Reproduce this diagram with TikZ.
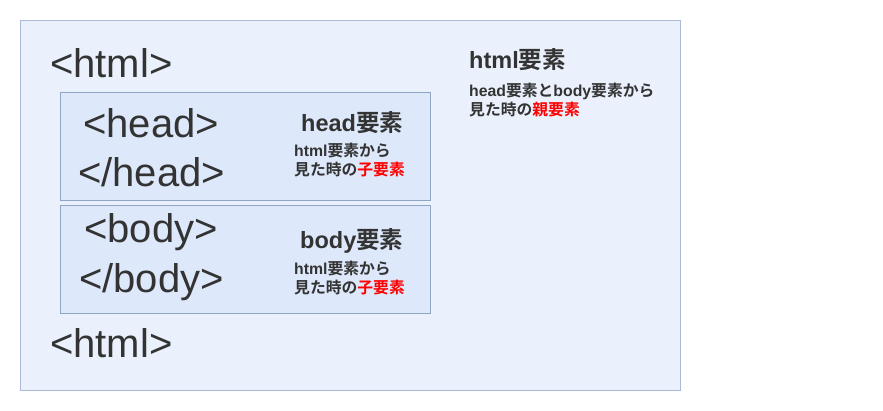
\documentclass[tikz,border=0pt]{standalone}
\usepackage{fontspec}
\setmainfont{Liberation Sans}
\newfontfamily\cjk{Noto Sans CJK JP}[BoldFont={* Bold}]
\definecolor{outerfill}{HTML}{EAF1FD}
\definecolor{outerdraw}{HTML}{AAB9D6}
\definecolor{innerfill}{HTML}{DDE8FA}
\definecolor{innerdraw}{HTML}{8FA5C6}
\definecolor{txt}{HTML}{333333}
\definecolor{redtxt}{HTML}{FF0000}
\newcommand{\jp}[1]{{\cjk #1}}
\begin{document}
\begin{tikzpicture}[x=1pt,y=-1pt,
  tag/.style={anchor=west,inner sep=0pt,text=txt,font=\fontsize{40}{42}\selectfont},
  title/.style={anchor=west,inner sep=0pt,text=txt,font=\fontsize{23.5}{26}\selectfont\bfseries},
  note/.style={anchor=west,inner sep=0pt,text=txt,font=\fontsize{15.8}{19.5}\selectfont\bfseries,align=left},
  outerbox/.style={draw=outerdraw,fill=outerfill,line width=0.8pt},
  innerbox/.style={draw=innerdraw,fill=innerfill,line width=0.8pt}]
\useasboundingbox (0,0) rectangle (883,411);
\fill[white] (0,0) rectangle (883,411);
\draw[outerbox] (20,20) rectangle (680,390);
\draw[innerbox] (60,92) rectangle (430,200);
\draw[innerbox] (60,205) rectangle (430,313);
\node[tag] (htmlopen) at (50,63) {<html>};
\node[tag] (headopen) at (83,123) {<head>};
\node[tag] (headclose) at (78,172) {</head>};
\node[tag] (bodyopen) at (84,232) {<body>};
\node[tag] (bodyclose) at (79,282) {</body>};
\node[tag] (htmlclose) at (50,343) {<html>};
\node[title] (headtitle) at (301,123) {head\jp{要素}};
\node[note] (headnote) at (294,160) {html\jp{要素から}\\\jp{見た時の}\textcolor{redtxt}{\jp{子要素}}};
\node[title] (bodytitle) at (300,241) {body\jp{要素}};
\node[note] (bodynote) at (294,278) {html\jp{要素から}\\\jp{見た時の}\textcolor{redtxt}{\jp{子要素}}};
\node[title] (htmltitle) at (469,60) {html\jp{要素}};
\node[note] (htmlnote) at (469,100) {head\jp{要素と}body\jp{要素から}\\\jp{見た時の}\textcolor{redtxt}{\jp{親要素}}};
\end{tikzpicture}
\end{document}
